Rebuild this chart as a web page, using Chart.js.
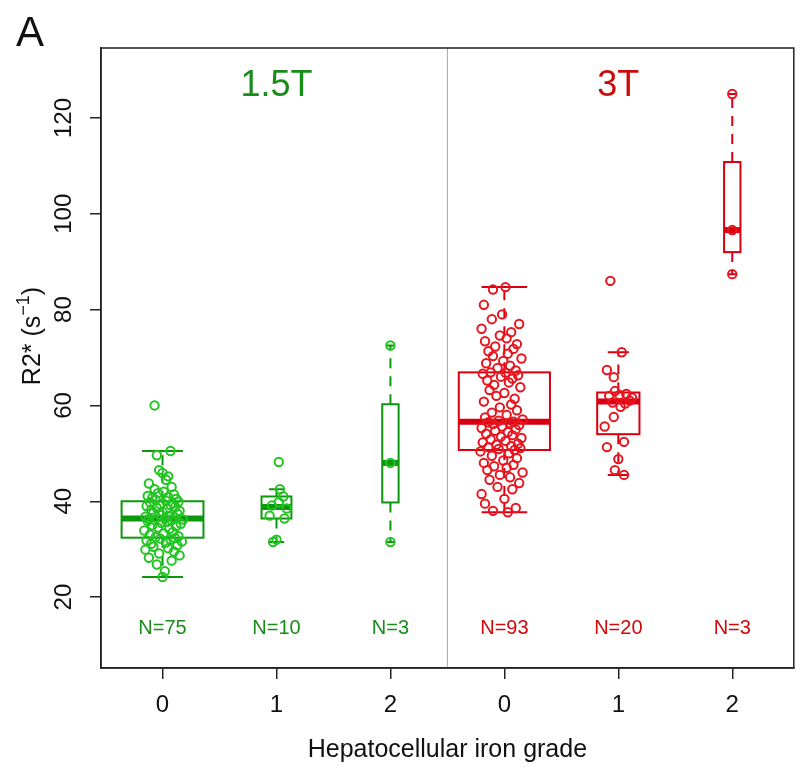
<!DOCTYPE html>
<html>
<head>
<meta charset="utf-8">
<script src="https://cdn.jsdelivr.net/npm/chart.js@4"></script>
<style>
  html, body { margin: 0; padding: 0; background: #fff; }
  canvas { display: block; }
</style>
</head>
<body>
<canvas id="myChart" width="800" height="772"></canvas>
<script>
// tick labels and panel labels
const gradeLabels = ["0", "1", "2", "0", "1", "2"];
const fieldLabels = ["1.5T", "3T"];
const yTickValues = [20, 40, 60, 80, 100, 120];

// 1.5T, grade 0 (R2*, s^-1) and horizontal jitter
const r15g0 = [
  24.2, 25.4, 26.8, 27.6, 28.2, 28.7, 29.1, 29.5, 29.9, 30.2,
  30.5, 30.8, 31.1, 31.4, 31.6, 31.8, 32.0, 32.2, 32.3, 32.5,
  32.7, 33.0, 33.3, 33.6, 33.9, 34.2, 34.5, 34.8, 35.0, 35.3,
  35.5, 35.7, 35.9, 36.0, 36.1, 36.2, 36.3, 36.4, 36.6, 36.8,
  37.0, 37.2, 37.4, 37.6, 37.8, 38.0, 38.2, 38.4, 38.6, 38.8,
  39.0, 39.2, 39.4, 39.6, 39.8, 39.9, 40.1, 40.3, 40.5, 40.7,
  40.9, 41.1, 41.4, 41.7, 42.0, 42.5, 43.0, 43.7, 44.5, 45.2,
  45.9, 46.5, 49.6, 50.5, 60.0
];
const jit15g0 = [
  0.00, 0.02, -0.05, 0.08, -0.12, 0.15, -0.03, 0.10, -0.15, 0.05,
  -0.08, 0.13, -0.10, 0.03, 0.17, -0.14, 0.07, -0.02, 0.11, -0.06,
  0.14, -0.11, 0.01, 0.09, -0.16, 0.06, -0.04, 0.12, -0.09, 0.16,
  -0.01, 0.04, -0.13, 0.08, -0.07, 0.18, -0.12, 0.02, 0.10, -0.15,
  0.06, -0.03, 0.13, -0.08, 0.00, 0.15, -0.10, 0.04, -0.05, 0.11,
  -0.14, 0.07, -0.02, 0.09, -0.11, 0.14, 0.03, -0.06, 0.12, -0.09,
  0.05, -0.13, 0.10, -0.04, 0.01, -0.07, 0.08, -0.12, 0.03, 0.05,
  0.00, -0.03, -0.05, 0.07, -0.07
];

// 1.5T, grade 1
const r15g1 = [31.5, 32.0, 36.4, 37.0, 38.5, 39.1, 39.8, 41.0, 42.5, 48.2];
const jit15g1 = [-0.03, 0.00, 0.07, -0.06, 0.09, -0.04, 0.02, 0.06, 0.03, 0.02];

// 1.5T, grade 2
const r15g2 = [31.5, 48.0, 72.5];
const jit15g2 = [0.00, 0.00, 0.00];

// 3T, grade 0
const r3g0 = [
  37.7, 38.0, 38.6, 39.5, 40.5, 41.5, 42.5, 43.0, 43.8, 44.5,
  45.0, 45.5, 46.0, 46.5, 47.0, 47.3, 47.6, 48.0, 48.5, 49.0,
  49.5, 50.0, 50.4, 50.7, 50.9, 51.1, 51.3, 51.5, 51.8, 52.0,
  52.3, 52.6, 52.9, 53.2, 53.5, 53.8, 54.1, 54.4, 54.7, 55.0,
  55.3, 55.6, 55.9, 56.1, 56.3, 56.5, 56.6, 56.8, 57.1, 57.5,
  58.0, 58.5, 59.0, 59.6, 60.2, 60.8, 61.4, 62.0, 62.6, 63.2,
  63.8, 64.3, 64.8, 65.2, 65.6, 66.0, 66.3, 66.6, 66.8, 66.9,
  67.3, 67.8, 68.3, 68.8, 69.3, 69.8, 70.3, 70.8, 71.3, 71.8,
  72.3, 72.8, 73.4, 74.0, 74.6, 75.3, 76.0, 77.0, 78.0, 79.0,
  81.0, 84.2, 84.7
];
const jit3g0 = [
  0.03, -0.10, 0.10, -0.17, 0.00, -0.20, 0.07, -0.06, 0.13, -0.13,
  0.05, -0.04, 0.16, -0.15, 0.02, -0.09, 0.08, -0.18, -0.01, 0.11,
  -0.11, 0.04, -0.21, 0.09, -0.05, 0.14, -0.14, 0.06, -0.07, 0.12,
  -0.19, 0.01, -0.12, 0.15, -0.03, 0.07, -0.16, 0.03, -0.08, 0.10,
  -0.20, -0.02, 0.13, -0.10, 0.05, -0.14, 0.08, -0.05, 0.16, -0.17,
  0.02, -0.11, 0.11, -0.04, 0.06, -0.18, 0.09, -0.07, 0.00, -0.13,
  0.14, -0.09, 0.04, -0.15, 0.07, -0.03, 0.12, -0.19, 0.01, -0.12,
  0.10, -0.06, 0.05, -0.16, -0.01, 0.15, -0.10, 0.03, -0.14, 0.08,
  -0.08, 0.11, -0.17, 0.02, -0.04, 0.06, -0.20, 0.13, -0.11, -0.02,
  -0.18, -0.10, 0.01
];

// 3T, grade 1
const r3g1 = [
  45.5, 46.5, 48.8, 51.3, 52.4, 55.6, 57.6, 59.7, 60.4, 60.6,
  61.0, 61.6, 62.0, 62.2, 62.4, 63.0, 65.9, 67.4, 71.1, 86.0
];
const jit3g1 = [
  0.05, -0.03, 0.00, -0.10, 0.05, -0.12, -0.04, 0.02, 0.06, -0.05,
  0.10, 0.12, -0.08, 0.01, 0.07, -0.03, -0.04, -0.10, 0.03, -0.07
];

// 3T, grade 2
const r3g2 = [87.4, 96.6, 125.0];
const jit3g2 = [0.00, 0.00, 0.00];

const groups = [
  { values: r15g0, jitter: jit15g0, field: 0 },
  { values: r15g1, jitter: jit15g1, field: 0 },
  { values: r15g2, jitter: jit15g2, field: 0 },
  { values: r3g0, jitter: jit3g0, field: 1 },
  { values: r3g1, jitter: jit3g1, field: 1 },
  { values: r3g2, jitter: jit3g2, field: 1 },
];

const pointColors = ["#22c422", "#e8141e"];
const boxColors = ["#0c980c", "#d80010"];
const textColors = ["#1a8c1a", "#cc0a0a"];
const fontFamily = '"Liberation Sans", Arial, Helvetica, sans-serif';
Chart.defaults.font.family = fontFamily;

// Tukey five number summary, as R's boxplot uses it
function fivenum(values) {
  const s = [...values].sort((a, b) => a - b);
  const n = s.length;
  const n4 = Math.floor((n + 3) / 2) / 2;
  const d = [1, n4, (n + 1) / 2, n + 1 - n4, n];
  return d.map((v) => 0.5 * (s[Math.floor(v) - 1] + s[Math.ceil(v) - 1]));
}

function boxStats(values) {
  const f = fivenum(values);
  const iqr = f[3] - f[1];
  const inside = values.filter((v) => v >= f[1] - 1.5 * iqr && v <= f[3] + 1.5 * iqr);
  return { q1: f[1], med: f[2], q3: f[3], lo: Math.min(...inside), hi: Math.max(...inside) };
}

const maxN = Math.max(...groups.map((g) => g.values.length));

const datasets = groups.map((g, i) => ({
  label: fieldLabels[g.field] + " grade " + gradeLabels[i],
  data: g.values.map((v, k) => ({ x: i + 1 + g.jitter[k], y: v })),
  borderColor: pointColors[g.field],
  backgroundColor: "rgba(0,0,0,0)",
  pointRadius: 4.2,
  pointBorderWidth: 2,
  pointStyle: "circle",
}));

const boxPlugin = {
  id: "boxes",
  beforeDatasetsDraw(chart) {
    const { ctx, scales: { x, y }, chartArea } = chart;
    ctx.save();
    // separator between the two field strengths
    const sx = x.getPixelForValue(3.5);
    ctx.strokeStyle = "#a8a8a8";
    ctx.lineWidth = 1;
    ctx.beginPath();
    ctx.moveTo(sx, chartArea.top);
    ctx.lineTo(sx, chartArea.bottom);
    ctx.stroke();

    groups.forEach((g, i) => {
      const st = boxStats(g.values);
      const pos = i + 1;
      const half = 0.4 * Math.sqrt(g.values.length / maxN);
      const xl = x.getPixelForValue(pos - half);
      const xr = x.getPixelForValue(pos + half);
      const xc = x.getPixelForValue(pos);
      const sl = x.getPixelForValue(pos - half / 2);
      const sr = x.getPixelForValue(pos + half / 2);
      const yq1 = y.getPixelForValue(st.q1);
      const yq3 = y.getPixelForValue(st.q3);
      const ymed = y.getPixelForValue(st.med);
      const ylo = y.getPixelForValue(st.lo);
      const yhi = y.getPixelForValue(st.hi);
      ctx.strokeStyle = boxColors[g.field];
      // whiskers (dashed)
      ctx.lineWidth = 2;
      ctx.setLineDash([10, 8]);
      ctx.beginPath();
      ctx.moveTo(xc, yq3);
      ctx.lineTo(xc, yhi);
      ctx.moveTo(xc, yq1);
      ctx.lineTo(xc, ylo);
      ctx.stroke();
      ctx.setLineDash([]);
      // staples
      ctx.beginPath();
      ctx.moveTo(sl, yhi);
      ctx.lineTo(sr, yhi);
      ctx.moveTo(sl, ylo);
      ctx.lineTo(sr, ylo);
      ctx.stroke();
      // box
      ctx.strokeRect(xl, yq3, xr - xl, yq1 - yq3);
      // median
      ctx.lineWidth = 6;
      ctx.beginPath();
      ctx.moveTo(xl, ymed);
      ctx.lineTo(xr, ymed);
      ctx.stroke();
    });
    ctx.restore();
  },
  afterDraw(chart) {
    const { ctx, scales: { x, y }, chartArea } = chart;
    ctx.save();
    // frame
    ctx.strokeStyle = "#222";
    ctx.lineWidth = 1.5;
    ctx.strokeRect(chartArea.left, chartArea.top, chartArea.right - chartArea.left, chartArea.bottom - chartArea.top);

    // field strength labels
    ctx.textAlign = "center";
    ctx.textBaseline = "middle";
    ctx.font = "36px " + fontFamily;
    ctx.fillStyle = textColors[0];
    ctx.fillText(fieldLabels[0], x.getPixelForValue(2), 86);
    ctx.fillStyle = textColors[1];
    ctx.fillText(fieldLabels[1], x.getPixelForValue(5), 86);

    // group sizes
    ctx.font = "20px " + fontFamily;
    groups.forEach((g, i) => {
      ctx.fillStyle = textColors[g.field];
      ctx.fillText("N=" + g.values.length, x.getPixelForValue(i + 1), 628);
    });

    // rotated y tick labels
    ctx.fillStyle = "#111";
    ctx.font = "24px " + fontFamily;
    yTickValues.forEach((v) => {
      ctx.save();
      ctx.translate(64, y.getPixelForValue(v));
      ctx.rotate(-Math.PI / 2);
      ctx.fillText(String(v), 0, 0);
      ctx.restore();
    });

    // y axis title with superscript
    ctx.save();
    ctx.translate(33, 336);
    ctx.rotate(-Math.PI / 2);
    ctx.textAlign = "left";
    ctx.textBaseline = "middle";
    const mainFont = "25px " + fontFamily;
    const supFont = "18px " + fontFamily;
    const parts = [["R2* (s", mainFont, 0], ["\u22121", supFont, -9], [")", mainFont, 0]];
    let total = 0;
    parts.forEach((p) => { ctx.font = p[1]; total += ctx.measureText(p[0]).width; });
    let cx = -total / 2;
    parts.forEach((p) => {
      ctx.font = p[1];
      ctx.fillText(p[0], cx, p[2]);
      cx += ctx.measureText(p[0]).width;
    });
    ctx.restore();

    // panel letter
    ctx.textAlign = "left";
    ctx.textBaseline = "alphabetic";
    ctx.font = "42px " + fontFamily;
    ctx.fillText("A", 16, 46);
    ctx.restore();
  },
};

const config = {
  type: "scatter",
  data: { datasets: datasets },
  options: {
    responsive: false,
    animation: false,
    layout: { padding: { top: 48, right: -2, left: 0, bottom: 0 } },
    plugins: {
      legend: { display: false },
      tooltip: { enabled: false },
    },
    scales: {
      x: {
        type: "linear",
        min: 0.46,
        max: 6.54,
        afterBuildTicks: (scale) => {
          scale.ticks = gradeLabels.map((_, i) => ({ value: i + 1 }));
        },
        afterFit: (scale) => {
          scale.height = 104;
          scale.paddingLeft = 0;
          scale.paddingRight = 0;
        },
        ticks: {
          color: "#111",
          padding: 12,
          maxRotation: 0,
          font: { size: 24 },
          callback: (value) => gradeLabels[value - 1],
        },
        grid: {
          drawOnChartArea: false,
          drawTicks: true,
          tickLength: 11,
          color: "#222",
          lineWidth: 1.5,
        },
        border: { display: true, color: "#222", width: 1.5 },
        title: {
          display: true,
          text: "Hepatocellular iron grade",
          color: "#111",
          font: { size: 25 },
          padding: { top: 0, bottom: 7 },
        },
      },
      y: {
        type: "linear",
        min: 5.2,
        max: 134.6,
        afterBuildTicks: (scale) => {
          scale.ticks = yTickValues.map((v) => ({ value: v }));
        },
        afterFit: (scale) => {
          scale.width = 101;
          scale.paddingTop = 0;
          scale.paddingBottom = 0;
        },
        ticks: { display: false },
        grid: {
          drawOnChartArea: false,
          drawTicks: true,
          tickLength: 11,
          color: "#222",
          lineWidth: 1.5,
        },
        border: { display: true, color: "#222", width: 1.5 },
      },
    },
  },
  plugins: [boxPlugin],
};

const myChart = new Chart(document.getElementById("myChart"), config);
</script>
</body>
</html>
